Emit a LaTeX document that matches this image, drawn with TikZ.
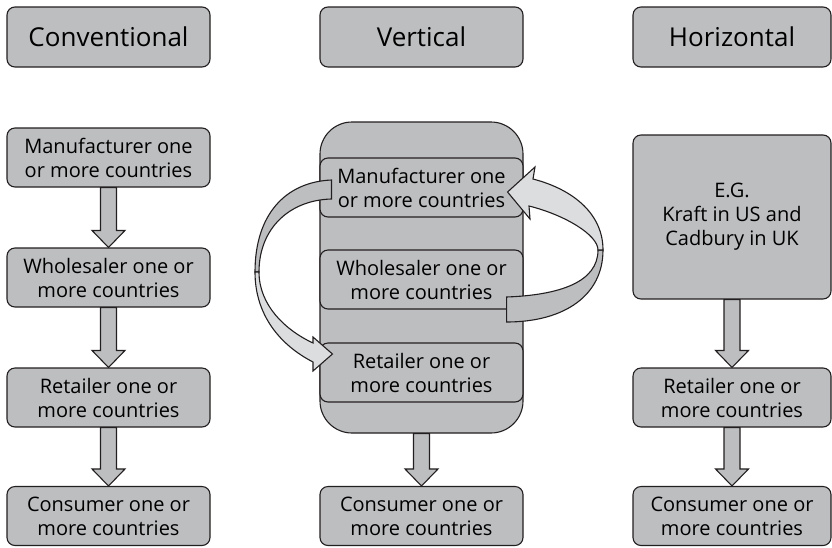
\documentclass[tikz,border=0pt]{standalone}
\usepackage{fontspec}
\setmainfont{Open Sans}
\usepackage{tikz}
\usetikzlibrary{positioning}
\usetikzlibrary{calc}
\definecolor{boxgray}{HTML}{BDBEC0}
\definecolor{ribbongray}{HTML}{DCDDDF}
\definecolor{inkgray}{HTML}{231F20}
\tikzstyle{headbox}=[rectangle,rounded corners=8pt,fill=boxgray,draw=inkgray,line width=1.1pt,minimum height=60pt,font=\fontsize{26}{30}\selectfont]
\tikzstyle{stepbox}=[rectangle,rounded corners=8pt,fill=boxgray,draw=inkgray,line width=1.1pt,minimum width=203pt,minimum height=59pt,align=center,inner sep=2pt,font=\fontsize{20}{24}\selectfont]
\tikzstyle{blockarrow}=[fill=boxgray,draw=inkgray,line width=1.1pt,line join=miter]
\tikzstyle{ribbon}=[draw=inkgray,line width=1.1pt,line join=miter]

% fat downward arrow from the bottom of #1 to the top of #2
\newcommand{\downto}[2]{%
  \draw[blockarrow] let \p1=(#1.south), \p2=(#2.north) in
    (\x1-8pt,\y1) -- (\x1-8pt,\y2+17pt) -- (\x1-16.5pt,\y2+17pt) -- (\x1,\y2)
    -- (\x1+16.5pt,\y2+17pt) -- (\x1+8pt,\y2+17pt) -- (\x1+8pt,\y1) -- cycle;}

\begin{document}
\begin{tikzpicture}[x=1pt,y=-1pt]
    \useasboundingbox (0,0) rectangle (832,547);

    % column titles
    \foreach \pos/\name/\boxw/\label in {{(108.5,37)/tconv/203/Conventional}, {(421.5,37)/tvert/203/Vertical}, {(732,37)/thor/198/Horizontal}}
        \node[headbox, minimum width=\boxw pt] (\name) at \pos {\label};

    % vertical: the outer body
    \node[stepbox, rounded corners=32pt, minimum height=311pt] (vbox) at (421.5,277.5) {};

    \foreach \pos/\name/\label in {{(108.5,157.5)/cm/{Manufacturer one\\or more countries}}, {(108.5,277.5)/cw/{Wholesaler one or\\more countries}}, {(108.5,397.5)/cr/{Retailer one or\\more countries}}, {(108.5,516)/cc/{Consumer one or\\more countries}}, {(421.5,187.5)/vm/{Manufacturer one\\or more countries}}, {(421.5,279.5)/vw/{Wholesaler one or\\more countries}}, {(421.5,372.5)/vr/{Retailer one or\\more countries}}, {(421.5,516)/vc/{Consumer one or\\more countries}}}
        \node[stepbox] (\name) at \pos {\label};

    \node[stepbox, minimum width=198pt, minimum height=164pt] (heg) at (732,217) {E.G.\\Kraft in US and\\Cadbury in UK};
    \foreach \pos/\name/\label in {{(732,397.5)/hr/{Retailer one or\\more countries}}, {(732,516)/hc/{Consumer one or\\more countries}}}
        \node[stepbox, minimum width=198pt] (\name) at \pos {\label};

    \foreach \source/\dest in {cm/cw, cw/cr, cr/cc, vbox/vc, heg/hr, hr/hc}
        \downto{\source}{\dest};

    % manufacturer -> retailer, round the left side
    \path[ribbon, fill=boxgray] ($(vm.west)+(12,-7.5)$) .. controls (285,182) and (255,215) .. (255,272)
        -- (259,272) .. controls (259,228) and (290,200) .. ($(vm.west)+(12,11.5)$) -- cycle;
    \path[ribbon, fill=ribbongray] (255,272) .. controls (255,315) and (280,345) .. (313,362)
        -- (313,371) -- ($(vr.west)+(13,-18.5)$) -- (313,337) -- (313,343)
        .. controls (285,330) and (259,305) .. (259,272) -- cycle;

    % wholesaler -> manufacturer, round the right side
    \path[ribbon, fill=boxgray] ($(vw.east)+(-17,17.5)$) .. controls (560,295) and (598,282) .. (598,250)
        -- (603,250) .. controls (603,295) and (565,322) .. ($(vw.east)+(-17,42.5)$) -- cycle;
    \path[ribbon, fill=ribbongray] (603,250) .. controls (603,215) and (575,190) .. (533,179)
        -- (535,167) -- ($(vm.east)+(-16,4.5)$) -- (530,219) -- (529,206)
        .. controls (565,215) and (598,235) .. (598,250) -- cycle;
\end{tikzpicture}
\end{document}
